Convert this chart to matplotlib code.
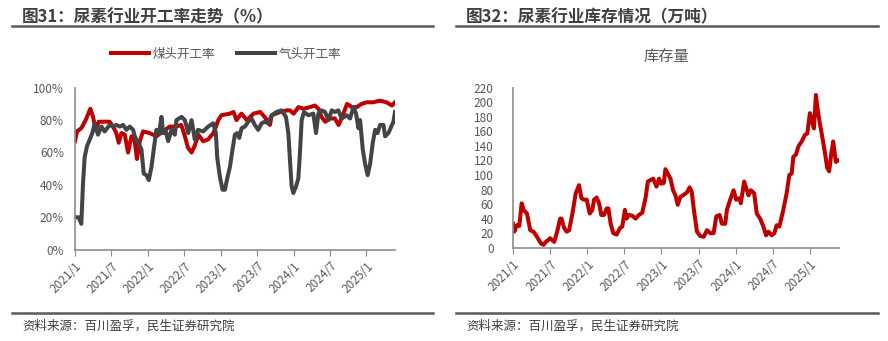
import matplotlib
matplotlib.use('Agg')
import matplotlib.pyplot as plt
from matplotlib.lines import Line2D

plt.rcParams['font.family'] = ['Noto Sans CJK SC', 'DejaVu Sans']

# months since 2021/1
tick_pos = [0, 6, 12, 18, 24, 30, 36, 42, 48]
tick_labels = ['2021/1', '2021/7', '2022/1', '2022/7', '2023/1', '2023/7', '2024/1', '2024/7', '2025/1']

# 煤头开工率 (%)
coal_t = [0, 0.33, 1.04, 1.76, 2.53, 2.97, 3.41, 3.9, 4.9, 5.7, 6.27, 6.8, 7.2, 7.64, 8.2, 8.74, 9.3,
          9.8, 10.2, 10.67, 11.2, 12.3, 13.4, 14.5, 15.6, 16.7, 17.5, 18.1, 18.6, 19.2, 19.7, 20.3,
          21.1, 21.9, 22.8, 23.6, 24.1, 25.5, 26.1, 26.6, 27.4, 28.3, 29.4, 30.5, 31.0, 31.6, 32.1,
          32.4, 33.8, 34.9, 35.4, 36.0, 36.8, 37.6, 38.7, 39.5, 40.1, 40.6, 41.2, 42.0, 42.8, 43.4,
          43.9, 44.8, 45.6, 46.4, 47.2, 48.05, 49.1, 50.2, 51.3, 52.2, 52.7]
coal_v = [67, 73, 75, 80, 87, 82, 74, 79, 79, 79, 76, 72, 66, 72, 71, 60, 70,
          68, 56, 67, 73, 72, 70, 73, 76, 76, 77, 70, 63, 60, 64, 71,
          67, 68, 72, 80, 83, 84, 85, 80, 84, 80, 84, 85, 83, 80, 77,
          83, 85, 86, 86, 84, 88, 87, 88, 89, 87, 82, 79, 81, 81, 77,
          81, 90, 88, 88, 90, 91, 91, 92, 91, 89, 91]

# 气头开工率 (%)
gas_t = [0, 0.6, 1.04, 1.32, 1.59, 1.98, 2.42, 2.86, 3.24, 3.79, 4.34, 4.88, 5.72, 6.27, 6.82, 7.37,
         7.92, 8.47, 9.02, 9.57, 9.84, 10.39, 10.94, 11.32, 11.76, 12.15, 12.59, 12.97, 13.41, 13.85,
         14.24, 14.51, 14.9, 15.34, 15.89, 16.44, 16.71, 17.54, 18.09, 18.64, 19.19, 19.73, 20.28,
         21.11, 21.93, 22.76, 23.2, 23.42, 23.86, 24.3, 24.69, 25.07, 25.51, 25.95, 26.33, 26.72,
         27.05, 27.43, 27.98, 28.53, 29.07, 29.62, 30.17, 30.72, 31.27, 31.82, 32.38, 33.2, 34.02,
         34.74, 35.13, 35.41, 35.68, 35.96, 36.4, 36.78, 37.05, 37.33, 37.71, 38.43, 39.25, 39.69,
         40.08, 40.63, 41.18, 41.73, 42.28, 42.83, 43.37, 43.92, 44.75, 45.3, 45.85, 46.29, 46.67,
         46.95, 47.39, 47.77, 48.2, 48.6, 49.04, 49.43, 49.81, 50.25, 50.8, 51.07, 51.62, 52.2, 52.44,
         52.7]
gas_v = [20, 20, 16, 41, 57, 64, 68, 72, 78, 71, 76, 73, 77, 76, 77, 76,
         77, 74, 76, 74, 70, 66, 62, 47, 46, 43, 51, 62, 74, 72,
         82, 72, 74, 67, 74, 71, 80, 82, 80, 72, 80, 68, 74,
         73, 76, 78, 72, 57, 45, 37, 37, 44, 51, 62, 71, 72,
         69, 75, 76, 79, 81, 77, 74, 78, 79, 78, 83, 85, 86,
         82, 72, 55, 39, 35, 39, 44, 60, 80, 85, 83, 84, 72,
         84, 86, 85, 80, 86, 85, 86, 81, 83, 81, 88, 84, 75,
         80, 62, 53, 46, 53, 66, 74, 72, 77, 77, 70, 72, 77, 79,
         85]

# 库存量 (万吨)
inv_t = [0, 0.21, 0.64, 1.02, 1.40, 1.72, 2.26, 2.79, 3.33, 3.87,
         4.51, 4.94, 5.32, 6.01, 6.66, 7.19, 7.62, 7.84, 8.27, 8.70,
         9.07, 9.61, 10.15, 10.68, 11.06, 11.49, 11.92, 12.40, 12.83, 13.10,
         13.53, 13.91, 14.28, 14.71, 15.14, 15.41, 15.79, 16.21, 16.75, 17.29,
         17.66, 18.09, 18.36, 18.74, 19.28, 19.81, 20.35, 20.89, 21.42, 21.80,
         22.23, 22.66, 23.19, 23.62, 23.95, 24.38, 24.64, 25.02, 25.45, 25.88,
         26.26, 26.63, 27.06, 27.49, 28.13, 28.56, 28.89, 29.32, 29.74, 30.28,
         30.82, 31.36, 31.89, 32.43, 32.86, 33.40, 33.77, 34.31, 34.58, 35.11,
         35.65, 36.08, 36.62, 36.83, 37.37, 37.80, 38.07, 38.44, 38.98, 39.41,
         39.95, 40.48, 40.91, 41.29, 41.82, 42.25, 42.63, 43.06, 43.70, 44.24,
         44.67, 45.05, 45.32, 45.74, 46.12, 46.66, 47.19, 47.57, 48.0, 48.27,
         48.64, 48.97, 49.18, 49.6, 49.88, 50.4, 50.79, 51.11, 51.49, 51.76,
         52.19, 52.6]
inv_v = [33, 22, 31, 30, 61, 52, 47, 24, 22, 15,
         6, 4, 8, 13, 8, 24, 40, 40, 27, 22,
         24, 47, 75, 86, 68, 66, 66, 47, 52, 66,
         69, 61, 45, 45, 54, 54, 33, 20, 18, 27,
         29, 52, 40, 45, 44, 40, 45, 48, 68, 91,
         93, 95, 84, 95, 88, 89, 108, 102, 95, 79,
         72, 59, 70, 72, 76, 83, 77, 47, 22, 16,
         15, 24, 20, 20, 43, 45, 33, 33, 52, 66,
         79, 66, 68, 61, 91, 79, 72, 79, 75, 47,
         40, 29, 17, 22, 17, 20, 31, 29, 52, 75,
         100, 102, 125, 128, 139, 146, 155, 157, 185, 176,
         164, 210, 194, 171, 158, 132, 110, 105, 132, 146,
         118, 120]

RED = '#C00000'
GRAY = '#444446'
TXT = '#595959'

fig = plt.figure(figsize=(8.88, 3.41), dpi=100)

# header / footer text and rules
fig.text(22 / 888, 1 - 17 / 341, '图31：尿素行业开工率走势（%）', fontsize=12, fontweight='bold',
         color='#404040', va='center', ha='left')
fig.text(466 / 888, 1 - 17 / 341, '图32：尿素行业库存情况（万吨）', fontsize=12, fontweight='bold',
         color='#404040', va='center', ha='left')
for x0, x1 in [(12, 433), (456, 878)]:
    fig.add_artist(Line2D([x0 / 888, x1 / 888], [1 - 26 / 341] * 2, color='#595959', lw=1.8))
    fig.add_artist(Line2D([x0 / 888, x1 / 888], [1 - 313 / 341] * 2, color='#595959', lw=1.8))
fig.text(22 / 888, 1 - 326 / 341, '资料来源：百川盈孚，民生证券研究院', fontsize=9, color='#404040',
         va='center', ha='left')
fig.text(466 / 888, 1 - 326 / 341, '资料来源：百川盈孚，民生证券研究院', fontsize=9, color='#404040',
         va='center', ha='left')


def style(ax):
    for s in ['top', 'right']:
        ax.spines[s].set_visible(False)
    for s in ['left', 'bottom']:
        ax.spines[s].set_color('#8C8C8C')
        ax.spines[s].set_linewidth(1.2)
    ax.set_xticks(tick_pos)
    ax.set_xticklabels(tick_labels, rotation=45, ha='right', rotation_mode='anchor')
    ax.tick_params(axis='x', direction='out', length=4, color='#8C8C8C', labelsize=8.5,
                   labelcolor=TXT, pad=3)
    ax.tick_params(axis='y', length=0, labelsize=8.5, labelcolor=TXT, pad=8)
    ax.set_xlim(0, 52.7)


# left chart
ax1 = fig.add_axes([75 / 888, 1 - 249.7 / 341, 320 / 888, 162 / 341])
l1, = ax1.plot(coal_t, coal_v, color=RED, lw=2.9, solid_joinstyle='round')
l2, = ax1.plot(gas_t, gas_v, color=GRAY, lw=2.9, solid_joinstyle='round')
ax1.set_ylim(0, 100)
ax1.set_yticks(range(0, 101, 20))
ax1.set_yticklabels([f'{v}%' for v in range(0, 101, 20)])
style(ax1)
fig.legend([l1, l2], ['煤头开工率', '气头开工率'], loc='center', bbox_to_anchor=(226 / 888, 1 - 54 / 341),
           ncol=2, frameon=False, fontsize=9, labelcolor=TXT, handlelength=3.0, handletextpad=0.3,
           columnspacing=1.8)

# right chart
ax2 = fig.add_axes([513 / 888, 1 - 247.7 / 341, 326 / 888, 160 / 341])
ax2.plot(inv_t, inv_v, color=RED, lw=2.9, solid_joinstyle='round')
ax2.set_ylim(0, 220)
ax2.set_yticks(range(0, 221, 20))
style(ax2)
ax2.tick_params(axis='y', pad=14)
fig.text(666 / 888, 1 - 56 / 341, '库存量', fontsize=11, color=TXT, ha='center', va='center')

fig.savefig('out.png', dpi=100)
